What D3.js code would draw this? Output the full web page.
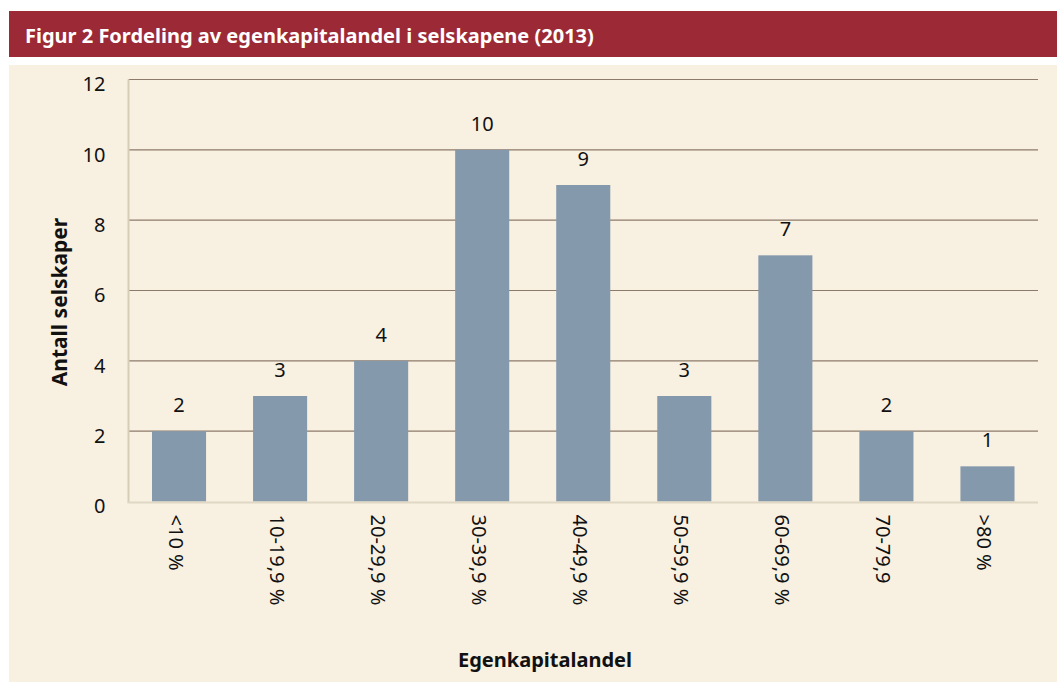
<!DOCTYPE html>
<html>
<head>
<meta charset="utf-8">
<script src="https://cdn.jsdelivr.net/npm/d3@7"></script>
<style>
  body { margin: 0; background: #fff; }
  svg text { font-family: "Noto Sans", "Open Sans", sans-serif; }
</style>
</head>
<body>
<script>
// data
var categories = ["<10 %", "10-19,9 %", "20-29,9 %", "30-39,9 %", "40-49,9 %", "50-59,9 %", "60-69,9 %", "70-79,9", ">80 %"];
var counts = [2, 3, 4, 10, 9, 3, 7, 2, 1];
var yTicks = [0, 2, 4, 6, 8, 10, 12];

var titleText = "Figur 2 Fordeling av egenkapitalandel i selskapene (2013)";
var yTitle = "Antall selskaper";
var xTitle = "Egenkapitalandel";

var W = 1057, H = 682;
var margin = {left: 128.5, right: 19, top: 79.5, bottom: 180.5};
var fs = 20;

var svg = d3.select("body")
    .append("svg")
    .attr("width", W)
    .attr("height", H);

// header bar
svg.append("rect")
    .attr("x", 9).attr("y", 11)
    .attr("width", W - 9).attr("height", 46)
    .attr("fill", "#9c2a36");

svg.append("text")
    .attr("x", 25).attr("y", 43)
    .attr("fill", "#fff")
    .attr("font-size", 20)
    .attr("font-weight", "bold")
    .text(titleText);

// panel
svg.append("rect")
    .attr("x", 9).attr("y", 65)
    .attr("width", W - 9).attr("height", H - 65)
    .attr("fill", "#f8f0e1");

var x = d3.scaleBand()
    .domain(categories)
    .range([margin.left, W - margin.right])
    .paddingInner(0.465)
    .paddingOuter(0.2325);

var y = d3.scaleLinear()
    .domain([0, 12])
    .range([H - margin.bottom, margin.top]);

// gridlines
svg.append("g")
    .selectAll("line")
    .data(yTicks.filter(d => d > 0))
    .enter()
    .append("line")
    .attr("x1", margin.left).attr("x2", W - margin.right)
    .attr("y1", d => y(d)).attr("y2", d => y(d))
    .attr("stroke", "#8c7b6a")
    .attr("stroke-width", 1.2);

// y axis
var yAxis = svg.append("g")
    .attr("transform", "translate(" + margin.left + ",0)")
    .call(d3.axisLeft(y).tickValues(yTicks).tickSize(0).tickPadding(23));
yAxis.select(".domain").remove();
yAxis.selectAll("text")
    .attr("font-size", fs)
    .attr("dy", "0.57em")
    .attr("fill", "#111")
    .style("font-family", "'Noto Sans', sans-serif");

// bars
svg.append("g")
    .selectAll("rect")
    .data(counts)
    .enter()
    .append("rect")
    .attr("x", (d, i) => x(categories[i]))
    .attr("y", d => y(d))
    .attr("width", x.bandwidth())
    .attr("height", d => y(0) - y(d))
    .attr("fill", "#8499ac");

// value labels
svg.append("g")
    .selectAll("text")
    .data(counts)
    .enter()
    .append("text")
    .attr("x", (d, i) => x(categories[i]) + x.bandwidth() / 2)
    .attr("y", d => y(d) - 19)
    .attr("text-anchor", "middle")
    .attr("font-size", fs)
    .attr("fill", "#111")
    .text(d => d);

// axis lines
svg.append("line")
    .attr("x1", margin.left).attr("x2", margin.left)
    .attr("y1", margin.top).attr("y2", y(0) + 1)
    .attr("stroke", "#d6cdb7")
    .attr("stroke-width", 2);
svg.append("line")
    .attr("x1", margin.left - 1).attr("x2", W - margin.right)
    .attr("y1", y(0) + 1).attr("y2", y(0) + 1)
    .attr("stroke", "#e0d8c4")
    .attr("stroke-width", 2);

// x labels, rotated
svg.append("g")
    .selectAll("text")
    .data(categories)
    .enter()
    .append("text")
    .attr("transform", d => "translate(" + (x(d) + x.bandwidth() / 2) + "," + (y(0) + 13) + ") rotate(90)")
    .attr("dy", "0.5em")
    .attr("font-size", fs)
    .attr("fill", "#111")
    .text(d => d);

// axis titles
svg.append("text")
    .attr("transform", "translate(67," + 302 + ") rotate(-90)")
    .attr("text-anchor", "middle")
    .attr("font-size", 21)
    .attr("font-weight", "bold")
    .attr("fill", "#111")
    .text(yTitle);

svg.append("text")
    .attr("x", 545).attr("y", 667)
    .attr("text-anchor", "middle")
    .attr("font-size", 20)
    .attr("font-weight", "bold")
    .attr("fill", "#111")
    .text(xTitle);
</script>
</body>
</html>
